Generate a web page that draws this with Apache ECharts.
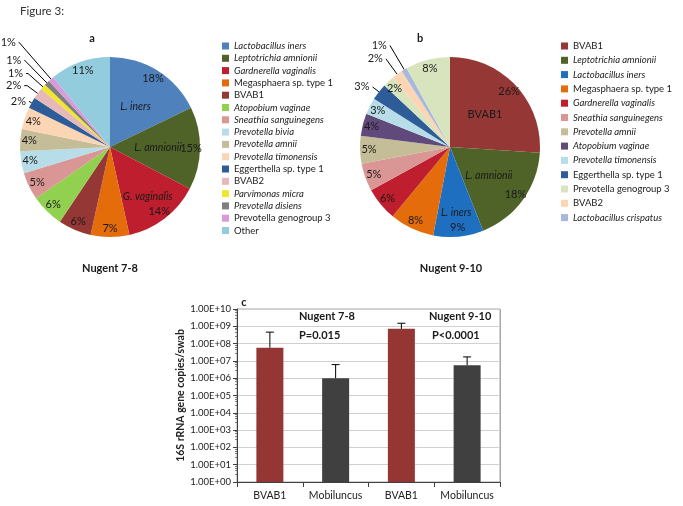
<!DOCTYPE html>
<html>
<head>
<meta charset="utf-8">
<script src="https://cdn.jsdelivr.net/npm/echarts@6/dist/echarts.min.js"></script>
<style>html,body{margin:0;padding:0;background:#fff}#c{width:683px;height:506px}</style>
</head>
<body>
<div id="c"></div>
<script>
// ---------- Data ----------
const pieANames = ['Lactobacillus iners','Leptotrichia amnionii','Gardnerella vaginalis','Megasphaera sp. type 1','BVAB1','Atopobium vaginae','Sneathia sanguinegens','Prevotella bivia','Prevotella amnii','Prevotella timonensis','Eggerthella sp. type 1','BVAB2','Parvimonas micra','Prevotella disiens','Prevotella genogroup 3','Other'];
const pieAValues = [18,15,14,7,6,6,5,4,4,4,2,2,1,1,1,11];
const pieAInnerNames = {0: 'L. iners', 1: 'L. amnionii'};
const pieAMidNames = {2: 'G. vaginalis'};

const pieBNames = ['BVAB1','Leptotrichia amnionii','Lactobacillus iners','Megasphaera sp. type 1','Gardnerella vaginalis','Sneathia sanguinegens','Prevotella amnii','Atopobium vaginae','Prevotella timonensis','Eggerthella sp. type 1','Prevotella genogroup 3','BVAB2','Lactobacillus crispatus','Other'];
const pieBValues = [26,18,9,8,6,5,5,4,3,3,2,2,1,8];
const pieBInnerNames = {0: 'BVAB1', 1: 'L. amnionii'};
const pieBMidNames = {2: 'L. iners'};
const pieBLegend = pieBNames.slice(0, 13);

const barCategories = ['BVAB1','Mobiluncus','BVAB1','Mobiluncus'];
const barValues = [5.8e7, 1.0e6, 7.1e8, 5.6e6];
const barErrorTop = [4.6e8, 6.1e6, 1.5e9, 1.7e7];

// ---------- Styles / layout ----------
const colorsA = ['#4F81BD','#4F6228','#BE1E2D','#E46C0A','#953735','#92D050','#D99694','#B7DEE8','#C4BD97','#FCD5B5','#2E5C99','#E6B9B8','#F0E62E','#7F7F7F','#D99ADB','#93CDDD'];
const colorsB = ['#953735','#4F6228','#1F6FC0','#E46C0A','#BE1E2D','#D99694','#C4BD97','#604A7B','#B7DEE8','#2E5C99','#D7E4BD','#FCD5B5','#A6B9DB','#D8E4BE'];
// outside percentage labels: index -> [labelLine length, length2]
const pieAOutside = {10: [3, 0], 11: [13, 3], 12: [20, 2], 13: [32, 0], 14: [49, 0]};
const pieBOutside = {9: [8, 0], 11: [19, 0], 12: [28, 0]};
const italicNames = new Set(['Lactobacillus iners','Leptotrichia amnionii','Gardnerella vaginalis','Atopobium vaginae','Sneathia sanguinegens','Prevotella bivia','Prevotella amnii','Prevotella timonensis','Parvimonas micra','Prevotella disiens','Lactobacillus crispatus']);
const FONT = 'Lato, "Open Sans", sans-serif';
const TXT = '#1a1a1a';
const richLbl = {
  i: {fontStyle: 'italic', fontFamily: FONT, fontSize: 10.5, color: TXT},
  n: {fontFamily: FONT, fontSize: 11, color: TXT}
};

function legendFormatter(name) {
  return italicNames.has(name) ? '{i|' + name + '}' : '{n|' + name + '}';
}

function mainPie(names, values, colors, center) {
  return {
    type: 'pie', center: center, radius: [0, 90], startAngle: 90, clockwise: true,
    silent: true, emphasis: {disabled: true}, label: {show: false}, labelLine: {show: false},
    itemStyle: {borderWidth: 0},
    data: names.map((n, i) => ({name: n, value: values[i], itemStyle: {color: colors[i]}}))
  };
}

// transparent ring whose inside labels sit at the ring's mid radius
function nameRing(names, values, radius, nameMap, center) {
  return {
    type: 'pie', center: center, radius: radius, startAngle: 90, clockwise: true,
    silent: true, emphasis: {disabled: true}, avoidLabelOverlap: false,
    itemStyle: {color: 'rgba(0,0,0,0)', borderWidth: 0},
    label: {show: true, position: 'inside', rich: richLbl, fontFamily: FONT, fontSize: 11, color: TXT,
      formatter: p => nameMap[p.dataIndex] ? (italicNames.has(p.name) ? '{i|' : '{n|') + nameMap[p.dataIndex] + '}' : ''},
    labelLine: {show: false},
    labelLayout: {hideOverlap: false},
    data: names.map((n, i) => ({name: n, value: values[i]}))
  };
}

function pctRing(names, values, outside, center) {
  return {
    type: 'pie', center: center, radius: [66, 90], startAngle: 90, clockwise: true,
    silent: true, emphasis: {disabled: true}, avoidLabelOverlap: false,
    itemStyle: {color: 'rgba(0,0,0,0)', borderWidth: 0},
    label: {show: true, position: 'inside', fontFamily: FONT, fontSize: 11, color: TXT,
      overflow: 'none', formatter: p => p.value + '%'},
    labelLine: {show: false, lineStyle: {color: '#000', width: 1}},
    labelLayout: {hideOverlap: false},
    data: names.map((n, i) => {
      const d = {name: n, value: values[i]};
      if (outside[i]) {
        d.label = {position: 'outside', distanceToLabelLine: 3};
        d.labelLine = {show: true, length: outside[i][0], length2: outside[i][1]};
      }
      return d;
    })
  };
}

function sciLabel(v) {
  const s = Number(v).toExponential(2).toUpperCase();
  const parts = s.split('E');
  let e = parseInt(parts[1], 10);
  const sign = e < 0 ? '-' : '+';
  e = Math.abs(e);
  return parts[0] + 'E' + sign + (e < 10 ? '0' : '') + e;
}

const legendText = {fontSize: 9.5, color: '#222', lineHeight: 12,
  rich: {i: {fontStyle: 'italic', fontSize: 9.5, lineHeight: 12, color: '#222', fontFamily: FONT},
         n: {fontSize: 9.5, lineHeight: 12, color: '#222', fontFamily: FONT}}};

const chart = echarts.init(document.getElementById('c'), null, {renderer: 'canvas'});
const option = {
  backgroundColor: '#fff',
  animation: false,
  textStyle: {fontFamily: FONT},
  legend: [
    {
      data: pieANames, orient: 'vertical', left: 217, top: 35,
      itemWidth: 7, itemHeight: 7, itemGap: 0.3, icon: 'rect', selectedMode: false,
      formatter: legendFormatter, textStyle: legendText
    },
    {
      data: pieBLegend.map(n => ({name: n, itemStyle: {color: colorsB[pieBNames.indexOf(n)]}})),
      orient: 'vertical', left: 556, top: 35,
      itemWidth: 7, itemHeight: 7, itemGap: 2.3, icon: 'rect', selectedMode: false,
      formatter: legendFormatter, textStyle: legendText
    }
  ],
  grid: {left: 237, right: 183, top: 309, bottom: 24, show: true, borderColor: '#a6a6a6', borderWidth: 1, backgroundColor: 'transparent'},
  xAxis: {
    type: 'category', data: barCategories,
    axisLine: {lineStyle: {color: '#404040', width: 1}},
    axisTick: {show: true, interval: 0, length: 5, lineStyle: {color: '#404040'}},
    axisLabel: {interval: 0, fontSize: 10.5, color: '#222', margin: 8, fontFamily: FONT},
    splitLine: {show: true, interval: (i) => i === 2, lineStyle: {color: '#a6a6a6', width: 1}}
  },
  yAxis: {
    type: 'log', logBase: 10, min: 1, max: 1e10, interval: 1,
    name: '16S rRNA gene copies/swab', nameLocation: 'middle', nameGap: 50, nameRotate: 90,
    nameTextStyle: {fontWeight: 'bold', fontSize: 10.5, color: '#222', fontFamily: FONT},
    axisLine: {show: true, lineStyle: {color: '#404040'}},
    axisTick: {show: true, length: 4, lineStyle: {color: '#404040'}},
    minorTick: {show: true, splitNumber: 5, length: 2, lineStyle: {color: '#808080'}},
    axisLabel: {formatter: sciLabel, fontSize: 9.5, color: '#222', margin: 6, fontFamily: FONT},
    splitLine: {show: true, lineStyle: {color: '#d0d0d0', width: 1}}
  },
  series: [
    mainPie(pieANames, pieAValues, colorsA, [110, 147]),
    nameRing(pieANames, pieAValues, [0, 90], pieAInnerNames, [110, 147]),
    nameRing(pieANames, pieAValues, [28, 90], pieAMidNames, [110, 147]),
    pctRing(pieANames, pieAValues, pieAOutside, [110, 147]),
    mainPie(pieBNames, pieBValues, colorsB, [450, 147]),
    nameRing(pieBNames, pieBValues, [0, 90], pieBInnerNames, [450, 147]),
    nameRing(pieBNames, pieBValues, [36, 90], pieBMidNames, [450, 147]),
    pctRing(pieBNames, pieBValues, pieBOutside, [450, 147]),
    {
      type: 'bar', barWidth: 27, silent: true,
      data: barValues.map((v, i) => ({value: v, itemStyle: {color: i % 2 === 0 ? '#943634' : '#404040'}}))
    },
    {
      type: 'custom', silent: true, z: 10,
      encode: {x: 0, y: [1, 2]},
      data: barValues.map((v, i) => [i, v, barErrorTop[i]]),
      renderItem: (params, api) => {
        const p0 = api.coord([api.value(0), api.value(1)]);
        const p1 = api.coord([api.value(0), api.value(2)]);
        return {type: 'group', children: [
          {type: 'line', shape: {x1: p0[0], y1: p0[1], x2: p1[0], y2: p1[1]}, style: {stroke: '#000', lineWidth: 1}},
          {type: 'line', shape: {x1: p1[0] - 4, y1: p1[1], x2: p1[0] + 4, y2: p1[1]}, style: {stroke: '#000', lineWidth: 1}}
        ]};
      }
    }
  ],
  graphic: [
    {type: 'text', left: 20, top: 5, style: {text: 'Figure 3:', fontSize: 11.5, fill: '#333', fontFamily: FONT}},
    {type: 'text', x: 92, y: 38, style: {text: 'a', fontSize: 11, fontWeight: 'bold', fill: TXT, fontFamily: FONT, textAlign: 'center', textVerticalAlign: 'middle'}},
    {type: 'text', x: 420, y: 38, style: {text: 'b', fontSize: 11, fontWeight: 'bold', fill: TXT, fontFamily: FONT, textAlign: 'center', textVerticalAlign: 'middle'}},
    {type: 'text', x: 110, y: 268, style: {text: 'Nugent 7-8', fontSize: 11, fontWeight: 'bold', fill: TXT, fontFamily: FONT, textAlign: 'center', textVerticalAlign: 'middle'}},
    {type: 'text', x: 451, y: 268, style: {text: 'Nugent 9-10', fontSize: 11, fontWeight: 'bold', fill: TXT, fontFamily: FONT, textAlign: 'center', textVerticalAlign: 'middle'}},
    {type: 'text', x: 244, y: 302, style: {text: 'c', fontSize: 11, fontWeight: 'bold', fill: TXT, fontFamily: FONT, textAlign: 'center', textVerticalAlign: 'middle'}},
    {type: 'text', x: 299, y: 316, z: 20, style: {text: 'Nugent 7-8', fontSize: 11, fontWeight: 'bold', fill: TXT, fontFamily: FONT, textVerticalAlign: 'middle'}},
    {type: 'text', x: 299, y: 335, z: 20, style: {text: 'P=0.015', fontSize: 11, fontWeight: 'bold', fill: TXT, fontFamily: FONT, textVerticalAlign: 'middle'}},
    {type: 'text', x: 429, y: 316, z: 20, style: {text: 'Nugent 9-10', fontSize: 11, fontWeight: 'bold', fill: TXT, fontFamily: FONT, textVerticalAlign: 'middle'}},
    {type: 'text', x: 432, y: 335, z: 20, style: {text: 'P<0.0001', fontSize: 11, fontWeight: 'bold', fill: TXT, fontFamily: FONT, textVerticalAlign: 'middle'}}
  ]
};
chart.setOption(option);
</script>
</body>
</html>
